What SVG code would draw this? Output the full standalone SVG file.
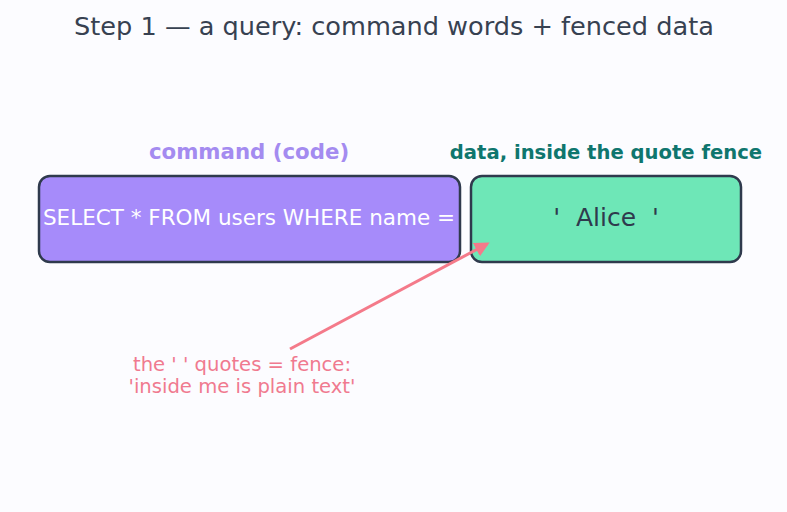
<svg xmlns="http://www.w3.org/2000/svg" width="787" height="512" viewBox="0 0 787 512">
<style>
text{font-family:"DejaVu Sans","Liberation Sans",sans-serif;}
.box{stroke:#2f3a4d;stroke-width:2.5;}
.title{font-size:25.6px;fill:#374151;}
.lbl{font-weight:bold;}
.note{font-size:19.6px;fill:#f07a8f;}
</style>
<defs>
<marker id="ah" viewBox="0 0 10 10" refX="8" refY="5" markerWidth="5" markerHeight="5" orient="auto" markerUnits="strokeWidth">
<path d="M0,0 L10,5 L0,10 z" fill="#f47a8a"/>
</marker>
</defs>
<rect width="787" height="512" fill="#fcfcff"/>
<text class="title" x="394" y="35" text-anchor="middle">Step 1 — a query: command words + fenced data</text>
<g id="command">
<text class="lbl" x="249" y="159" text-anchor="middle" fill="#a48bf0" font-size="21.3">command (code)</text>
<rect class="box" x="39" y="176" width="421" height="86" rx="11" fill="#a68bfa"/>
<text x="249" y="225" text-anchor="middle" font-size="21.5" fill="#ffffff">SELECT * FROM users WHERE name =</text>
</g>
<g id="data">
<text class="lbl" x="606" y="159" text-anchor="middle" fill="#0f766e" font-size="19.6">data, inside the quote fence</text>
<rect class="box" x="471" y="176" width="270" height="86" rx="11" fill="#6ee7b7"/>
<text x="606" y="226" text-anchor="middle" font-size="25" fill="#2f3a4d" xml:space="preserve">'  Alice  '</text>
</g>
<g id="connectors">
<line x1="290" y1="349" x2="487" y2="244" stroke="#f47a8a" stroke-width="3" marker-end="url(#ah)"/>
</g>
<g id="note">
<text class="note" x="242" y="371" text-anchor="middle">the ' ' quotes = fence:</text>
<text class="note" x="242" y="393" text-anchor="middle">'inside me is plain text'</text>
</g>
</svg>
